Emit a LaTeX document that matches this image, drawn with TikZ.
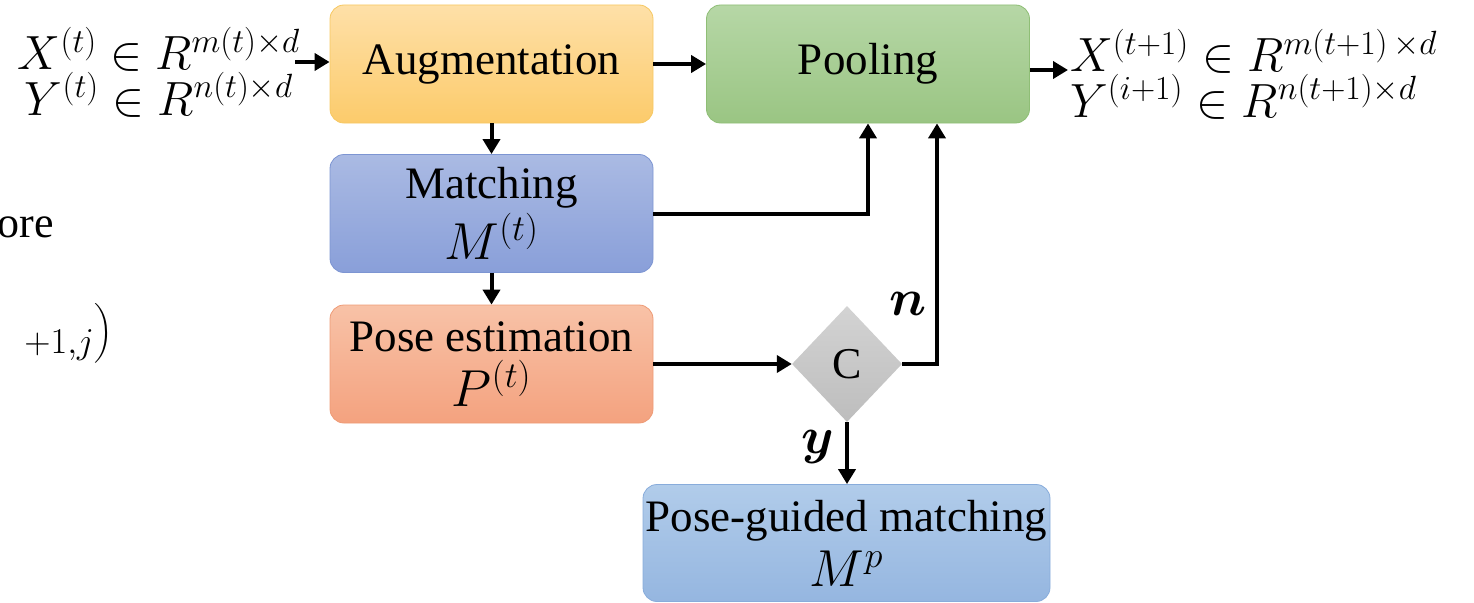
\RequirePackage{fix-cm}
\documentclass[tikz,border=0pt]{standalone}
\usepackage{fontspec}
\setmainfont{Liberation Serif}
\usepackage{amsmath,bm}
\usetikzlibrary{shapes.geometric,arrows.meta}
\definecolor{augT}{HTML}{FEE0A8}\definecolor{augB}{HTML}{FCCB6B}\definecolor{augD}{HTML}{F6C862}
\definecolor{poolT}{HTML}{B6D7A6}\definecolor{poolB}{HTML}{9AC583}\definecolor{poolD}{HTML}{8FBE76}
\definecolor{matT}{HTML}{AABAE3}\definecolor{matB}{HTML}{899FD9}\definecolor{matD}{HTML}{7D95D2}
\definecolor{posT}{HTML}{F8C2A7}\definecolor{posB}{HTML}{F4A27F}\definecolor{posD}{HTML}{EE9B76}
\definecolor{pgT}{HTML}{B1CCEA}\definecolor{pgB}{HTML}{95B6E0}\definecolor{pgD}{HTML}{88ACDB}
\definecolor{cT}{HTML}{D3D3D3}\definecolor{cB}{HTML}{BDBDBD}
\newcommand{\bigmath}[1]{{\fontsize{52}{52}\selectfont$#1$}}
\tikzset{
  blk/.style={rounded corners=14pt, minimum width=323pt, minimum height=118pt,
    inner sep=0pt, align=center, font=\fontsize{45}{50}\selectfont, line width=0.8pt},
  flow/.style={line width=4pt, -{Triangle[length=15pt,width=17pt]}},
  lbl/.style={font=\fontsize{44}{50}\selectfont, inner sep=0pt},
  eqn/.style={font=\fontsize{48}{44}\selectfont, inner sep=0pt},
}
\begin{document}
\begin{tikzpicture}[x=1pt,y=-1pt]
\useasboundingbox (0,0) rectangle (1474,602);
\clip (0,0) rectangle (1474,602);

% process blocks
\node[blk, draw=augD, top color=augT, bottom color=augB] (aug) at (491.5,64) {Augmentation};
\node[blk, draw=poolD, top color=poolT, bottom color=poolB] (pool) at (868,64) {Pooling};
\node[blk, draw=matD, top color=matT, bottom color=matB] (match) at (491.5,213.5)
  {Matching\\[4pt]\bigmath{M^{(t)}}};
\node[blk, draw=posD, top color=posT, bottom color=posB] (pose) at (491.5,364)
  {Pose estimation\\[5pt]\bigmath{P^{(t)}}};
\node[blk, minimum width=407pt, minimum height=117pt, draw=pgD, top color=pgT, bottom color=pgB]
  (pg) at (846.5,543) {Pose-guided matching\\[5pt]\bigmath{M^{p}}};
\node[diamond, minimum width=110pt, minimum height=116pt, inner sep=0pt,
  top color=cT, bottom color=cB, font=\fontsize{44}{50}\selectfont] (C) at (847,364) {C};

% inputs and outputs
\node[eqn, align=center, anchor=east] (in) at (300,72)
  {$X^{(t)}\in R^{m(t)\times d}$\\$Y^{(t)}\in R^{n(t)\times d}$};
\node[eqn, align=left, anchor=west] (out) at (1070,74)
  {$X^{(t+1)}\in R^{m(t+1)\,\times d}$\\$Y^{(i+1)}\in R^{n(t+1)\times d}$};

% text running in from the left edge
\node[lbl, anchor=base east] (frag1) at (54,237) {ore};
\node[lbl, anchor=base east] (frag2) at (113,346) {\bigmath{{}_{+1,j}\bigr)}};

% connectors
\coordinate (inA) at (295,62);
\draw[flow] (inA) -- (inA -| aug.west);
\draw[flow] (aug.east) -- (pool.west);
\coordinate (outA) at (1068,70);
\draw[flow] (outA -| pool.east) -- (outA);
\draw[flow] (aug.south) -- (match.north);
\draw[flow] (match.south) -- (pose.north);
\coordinate (mp) at (868,0);
\draw[flow] (match.east) -| (mp |- pool.south);
\draw[flow] (pose.east |- C.west) -- (C.west);
\coordinate (cn) at (937,0);
\draw[flow] (C.east) -| (cn |- pool.south);
\draw[flow] (C.south) -- (C.south |- pg.north);

% branch labels
\node[lbl] (nlab) at (908,304) {\bigmath{\bm{n}}};
\node[lbl] (ylab) at (818,447) {\bigmath{\bm{y}}};
\end{tikzpicture}
\end{document}
